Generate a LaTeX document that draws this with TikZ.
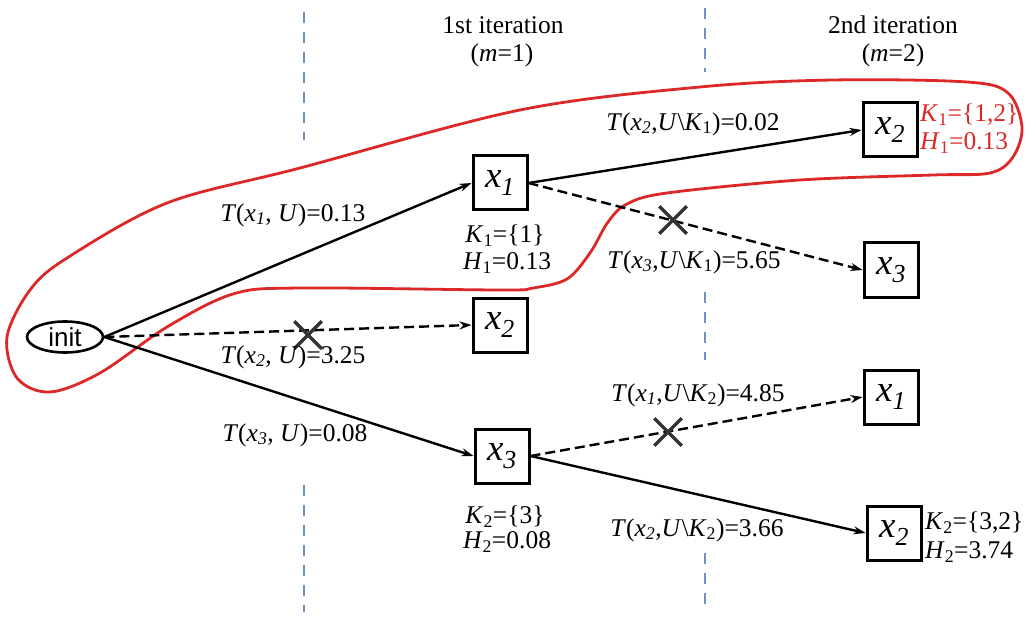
\documentclass[tikz,border=0pt]{standalone}
\usepackage{fontspec}
\setmainfont{Liberation Serif}
\newfontfamily\initfont{Liberation Sans}
\usetikzlibrary{arrows.meta,shapes.geometric,shapes.misc}
\newcommand\vx[1]{\textit{x}\textsubscript{\textit{#1}}}
\newcommand\ks[1]{\textit{K}\textsubscript{#1}}
\newcommand\hs[1]{\textit{H}\textsubscript{#1}}
\definecolor{redc}{RGB}{220,40,40}
\definecolor{bluec}{RGB}{110,145,205}
\begin{document}
\begin{tikzpicture}[x=1pt,y=-1pt,
  bx/.style={draw, line width=3pt, minimum size=54pt, inner sep=0pt, font=\fontsize{37}{40}\selectfont},
  initnode/.style={draw, ellipse, line width=2.6pt, minimum width=76pt, minimum height=31pt, inner sep=0pt, font=\initfont\fontsize{26}{28}\selectfont},
  lab/.style={font=\fontsize{25.5}{28}\selectfont, inner sep=0pt},
  rlab/.style={font=\fontsize{25.5}{28}\selectfont, inner sep=0pt, anchor=west, text=redc},
  klab/.style={font=\fontsize{25.5}{28}\selectfont, inner sep=0pt, anchor=west},
  edge/.style={line width=2.4pt, -{Stealth[length=12pt,width=8pt]}},
  dedge/.style={edge, dash pattern=on 10pt off 5pt},
  xmark/.style={cross out, draw=black!80, line width=3.5pt, minimum size=24pt, inner sep=0pt},
  blueline/.style={draw=bluec, line width=2.8pt, dash pattern=on 11pt off 9pt},
  redcurve/.style={draw=redc, line width=2.8pt}
]
\useasboundingbox (0,0) rectangle (1032,617);
\fill[white] (0,0) rectangle (1032,617);

% iteration separators
\draw[blueline] (304,12) -- (304,140);
\draw[blueline] (304,485) -- (304,612);
\draw[blueline] (705,8) -- (705,72);
\draw[blueline] (705,292) -- (705,360);
\draw[blueline] (705,553) -- (705,612);

% headers
\node[lab] (h1a) at (503,25) {1st iteration};
\node[lab] (h1b) at (502,55) {(\textit{m}=1)};
\node[lab] (h2a) at (893,25) {2nd iteration};
\node[lab] (h2b) at (893,55) {(\textit{m}=2)};

% red enclosing curve
\draw[redcurve] plot[smooth cycle, tension=0.55] coordinates {
 (7,337) (30,290) (67,258) (167,203) (300,168) (520,110) (700,87) (833,80) (967,82)
 (1008,93) (1022,127) (1013,157) (990,173) (933,175) (800,180) (667,193) (627,204)
 (608,222) (590,253) (567,279) (533,288) (500,290) (300,288) (233,294) (167,327)
 (100,373) (50,392) (17,378)};

% nodes
\node[initnode] (init) at (65,337) {init};
\node[bx] (a1) at (500,183) {\vx{1}};
\node[bx] (a2) at (500,325) {\vx{2}};
\node[bx] (a3) at (502,456) {\vx{3}};
\node[bx] (b2) at (890,130) {\vx{2}};
\node[bx] (b3) at (891,270) {\vx{3}};
\node[bx] (c1) at (891,397) {\vx{1}};
\node[bx] (c2) at (894,533) {\vx{2}};

% edges
\draw[edge] (init.east) -- (a1.west);
\draw[dedge] (init.east) -- (a2.west);
\draw[edge] (init.east) -- (a3.west);
\draw[edge] (a1.east) -- (b2.west);
\draw[dedge] (a1.east) -- (b3.west);
\draw[dedge] (a3.east) -- (c1.west);
\draw[edge] (a3.east) -- (c2.west);

% crosses
\node[xmark] (x1) at (308,335) {};
\node[xmark] (x2) at (673,220) {};
\node[xmark] (x3) at (668,432) {};

% edge labels
\node[lab] (l1) at (293,215) {\textit{T}(\vx{1}, \textit{U})=0.13};
\node[lab] (l2) at (293,357) {\textit{T}(\vx{2}, \textit{U})=3.25};
\node[lab] (l3) at (295,435) {\textit{T}(\vx{3}, \textit{U})=0.08};
\node[lab] (l4) at (693,124) {\textit{T}(\vx{2},\textit{U}\textbackslash\ks{1})=0.02};
\node[lab] (l5) at (694,262) {\textit{T}(\vx{3},\textit{U}\textbackslash\ks{1})=5.65};
\node[lab] (l6) at (698,395) {\textit{T}(\vx{1},\textit{U}\textbackslash\ks{2})=4.85};
\node[lab] (l7) at (697,530) {\textit{T}(\vx{2},\textit{U}\textbackslash\ks{2})=3.66};

% state labels
\node[lab] (k1) at (505,236) {\ks{1}=\{1\}};
\node[lab] (hh1) at (507,263) {\hs{1}=0.13};
\node[lab] (k2) at (505,517) {\ks{2}=\{3\}};
\node[lab] (hh2) at (507,542) {\hs{2}=0.08};
\node[rlab] (k3) at (920,115) {\ks{1}=\{1,2\}};
\node[rlab] (hh3) at (920,143) {\hs{1}=0.13};
\node[klab] (k4) at (925,523) {\ks{2}=\{3,2\}};
\node[klab] (hh4) at (925,552) {\hs{2}=3.74};
\end{tikzpicture}
\end{document}
